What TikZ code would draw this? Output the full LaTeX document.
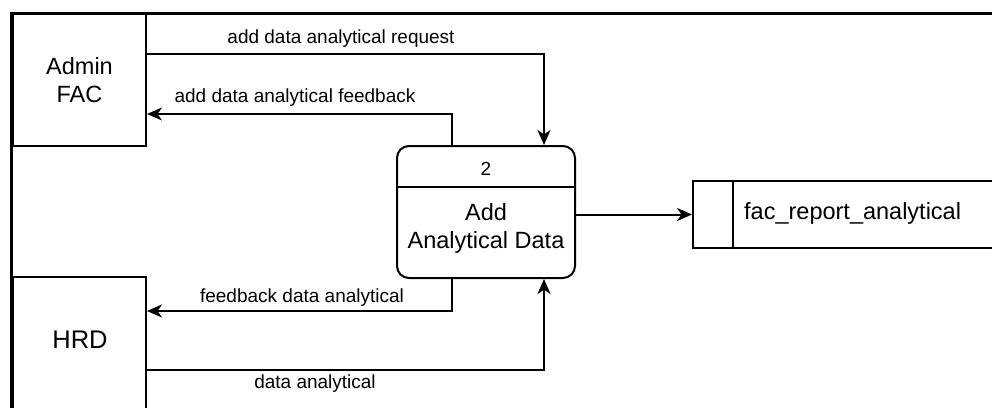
\documentclass[tikz,border=0pt]{standalone}
\usepackage{fontspec}
\setmainfont{Liberation Sans}
\usetikzlibrary{arrows.meta}
\begin{document}
\begin{tikzpicture}[x=1pt,y=-1pt,
  bigfont/.style={font=\fontsize{23.5}{27.5}\selectfont},
  box/.style={draw, line width=2pt, minimum width=133pt, minimum height=132pt, inner sep=0pt, align=center, bigfont},
  arr/.style={draw, line width=2pt, -{Stealth[length=15pt,width=13pt,inset=4.5pt]}},
  lbl/.style={font=\fontsize{19}{22}\selectfont, inner sep=0pt, anchor=base},
  thick2/.style={line width=2pt}]
\useasboundingbox (0,0) rectangle (992,407);
\clip (0,0) rectangle (992,407);
% frame
\coordinate (fbl) at (11,410);
\coordinate (ftl) at (11,13);
\coordinate (ftr) at (995,13);
\draw[line width=3pt] (fbl) -- (ftl) -- (ftr);
% entities
\node[box] (admin) at (79.5,80) {Admin\\FAC};
\node[box] (hrd) at (79.5,343) {};
\node[font=\fontsize{25.5}{30}\selectfont, inner sep=0pt] (hrdtext) at (80,340) {HRD};
% process
\node[draw, thick2, rounded corners=12pt, minimum width=178pt, minimum height=132pt, inner sep=0pt] (proc) at (486,212) {};
\draw[thick2] (proc.west |- 0,187) -- (proc.east |- 0,187);
\node[font=\fontsize{19}{22}\selectfont, inner sep=0pt, anchor=base] (pnum) at (486,175) {2};
\node[bigfont, align=center, inner sep=0pt] (ptext) at (486,228.4) {Add\\Analytical Data};
% data store
\node[draw, thick2, minimum width=330pt, minimum height=67pt, inner sep=0pt, anchor=west] (store) at (692,214.5) {};
\draw[thick2] (733,0 |- store.north) -- (733,0 |- store.south);
\node[bigfont, anchor=base west, inner sep=0pt] (stext) at (744,219.5) {fac\_report\_analytical};
% connectors
\draw[arr] (admin.east |- 0,54) -| (proc.north -| 544,0);
\draw[arr] (proc.north -| 452,0) |- (admin.east |- 0,114);
\draw[arr] (proc.east |- store.west) -- (store.west);
\draw[arr] (proc.south -| 452,0) |- (hrd.east |- 0,311);
\draw[arr] (hrd.east |- 0,370) -| (proc.south -| 544,0);
% labels
\node[lbl] (l1) at (341,43) {add data analytical request};
\node[lbl] (l2) at (295,102) {add data analytical feedback};
\node[lbl] (l3) at (302,302) {feedback data analytical};
\node[lbl] (l4) at (315,388) {data analytical};
\end{tikzpicture}
\end{document}
